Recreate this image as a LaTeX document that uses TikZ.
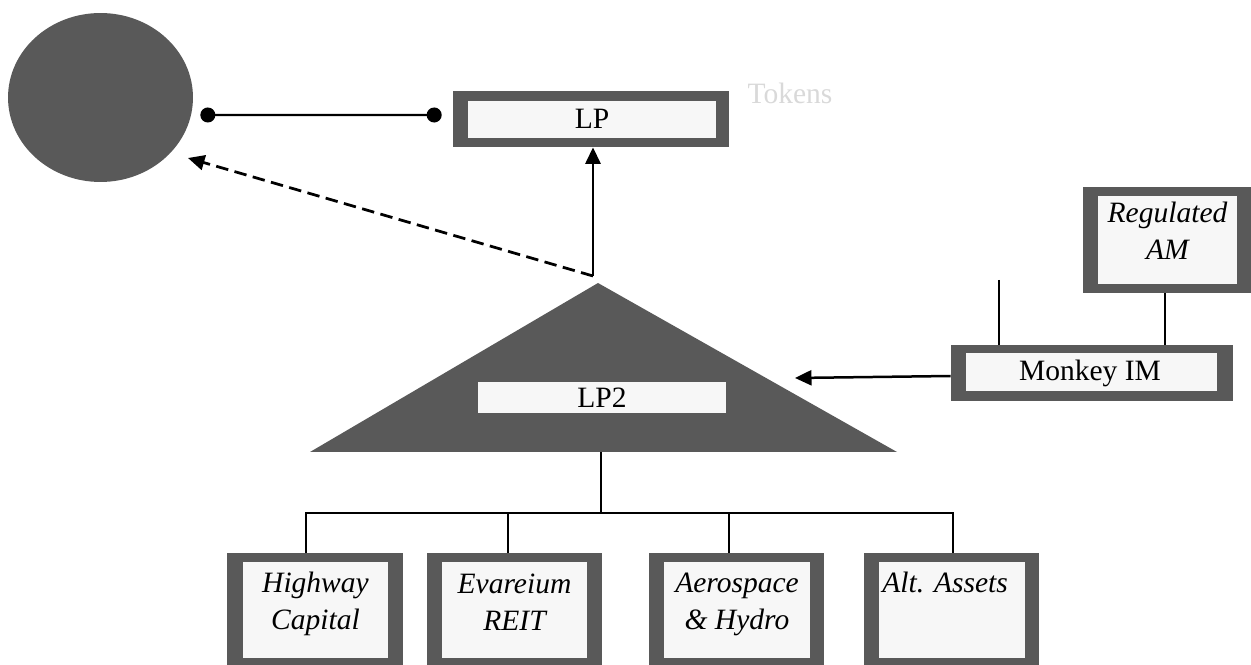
\documentclass[tikz,border=0pt]{standalone}
\usepackage{fontspec}
\setmainfont{Liberation Serif}
\usetikzlibrary{arrows.meta,shapes.geometric}
\definecolor{dkgray}{HTML}{595959}
\definecolor{paper}{HTML}{F7F7F7}
\definecolor{faint}{HTML}{D9D9D9}
\tikzset{
  holder/.style={fill=dkgray, inner sep=0pt},
  plate/.style={fill=paper, inner sep=0pt},
  entity/.style={holder, minimum width=3.52cm, minimum height=2.24cm},
  entplate/.style={plate, minimum width=2.92cm, minimum height=1.92cm},
  tag/.style={inner sep=0pt, font=\fontsize{16.8}{21}\selectfont},
  itag/.style={tag, font=\fontsize{16.8}{21}\selectfont\itshape, align=center},
  conn/.style={line width=0.055cm},
  tree/.style={line width=0.025cm},
  tip/.style={-{Triangle[length=0.33cm,width=0.3cm]}}
}
\begin{document}
\begin{tikzpicture}[x=0.02cm,y=-0.02cm]
  \useasboundingbox (0,0) rectangle (1251,665);
  % top row
  \node[ellipse, fill=dkgray, minimum width=3.7cm, minimum height=3.38cm] (circ) at (100.5,97.5) {};
  \node[holder, minimum width=5.52cm, minimum height=1.12cm] (lp) at (591,119) {};
  \node[plate, minimum width=4.96cm, minimum height=0.74cm] (lpin) at (592,119.5) {};
  \node[tag] (lptxt) at (592,119) {LP};
  \node[tag, text=faint] (tokens) at (790,93) {Tokens};
  \draw[line width=0.045cm, {Circle[length=0.3cm]}-{Circle[length=0.3cm]}, shorten <=0.14cm, shorten >=0.22cm]
    ([yshift=-0.35cm]circ.east) -- ([yshift=0.08cm]lp.west);

  % fund triangle
  \coordinate (apex) at (598,283);
  \coordinate (base) at (601,452);
  \fill[dkgray] (310,452) -- (apex) -- (897,452) -- cycle;
  \node[plate, minimum width=4.96cm, minimum height=0.62cm] (lp2) at (602,397.5) {};
  \node[tag] (lp2txt) at (602,397.5) {LP2};
  \coordinate (fork) at (593,276);
  \coordinate (back) at (188,158);
  \draw[conn, tip] (fork) -- (fork |- lp.south);
  \draw[conn, tip, dash pattern=on 0.25cm off 0.13cm] (fork) -- (back);

  % manager side
  \node[holder, minimum width=5.64cm, minimum height=1.12cm] (monkey) at (1092,373) {};
  \node[plate, minimum width=5.02cm, minimum height=0.76cm] (monkeyin) at (1091.5,372) {};
  \node[tag] (monkeytxt) at (1090,373) {Monkey IM};
  \node[holder, minimum width=3.38cm, minimum height=2.12cm] (reg) at (1167.5,240) {};
  \node[plate, minimum width=2.78cm, minimum height=1.76cm] (regin) at (1167.5,240) {};
  \node[itag] (regtxt) at (1167.5,231) {Regulated\\AM};
  \coordinate (into) at (795,378);
  \coordinate (stub) at (999,280);
  \draw[line width=0.05cm, tip] ([yshift=-0.06cm]monkey.west) -- (into);
  \draw[tree] ([xshift=-0.05cm]reg.south) -- ([xshift=-0.05cm]reg.south |- monkey.north);
  \draw[tree] (stub) -- (stub |- monkey.north);

  % holdings
  \node[entity] (hw) at (315,609) {};
  \node[entplate] (hwin) at (315.5,610) {};
  \node[itag] (hwtxt) at (315.5,603.5) {Highway\\Capital};
  \node[entity] (ev) at (514.5,609) {};
  \node[entplate] (evin) at (514.5,610) {};
  \node[itag] (evtxt) at (514.5,602) {Evareium\\REIT};
  \node[entity] (aero) at (736.5,609) {};
  \node[entplate] (aeroin) at (737,610) {};
  \node[itag] (aerotxt) at (737,604) {Aerospace\\\& Hydro};
  \node[entity] (alt) at (951.5,609) {};
  \node[entplate] (altin) at (952,610) {};
  \node[itag, anchor=west] (alttxt) at (882,582) {Alt. Assets};
  \coordinate (bus) at (601,513);
  \draw[tree] (base) -- (bus);
  \draw[tree] ([xshift=-0.18cm]hw.north) |- (bus) -| ([xshift=0.03cm]alt.north);
  \draw[tree] ([xshift=-0.13cm]ev.north) -- ([xshift=-0.13cm]ev.north |- bus);
  \draw[tree] ([xshift=-0.15cm]aero.north) -- ([xshift=-0.15cm]aero.north |- bus);
\end{tikzpicture}
\end{document}
